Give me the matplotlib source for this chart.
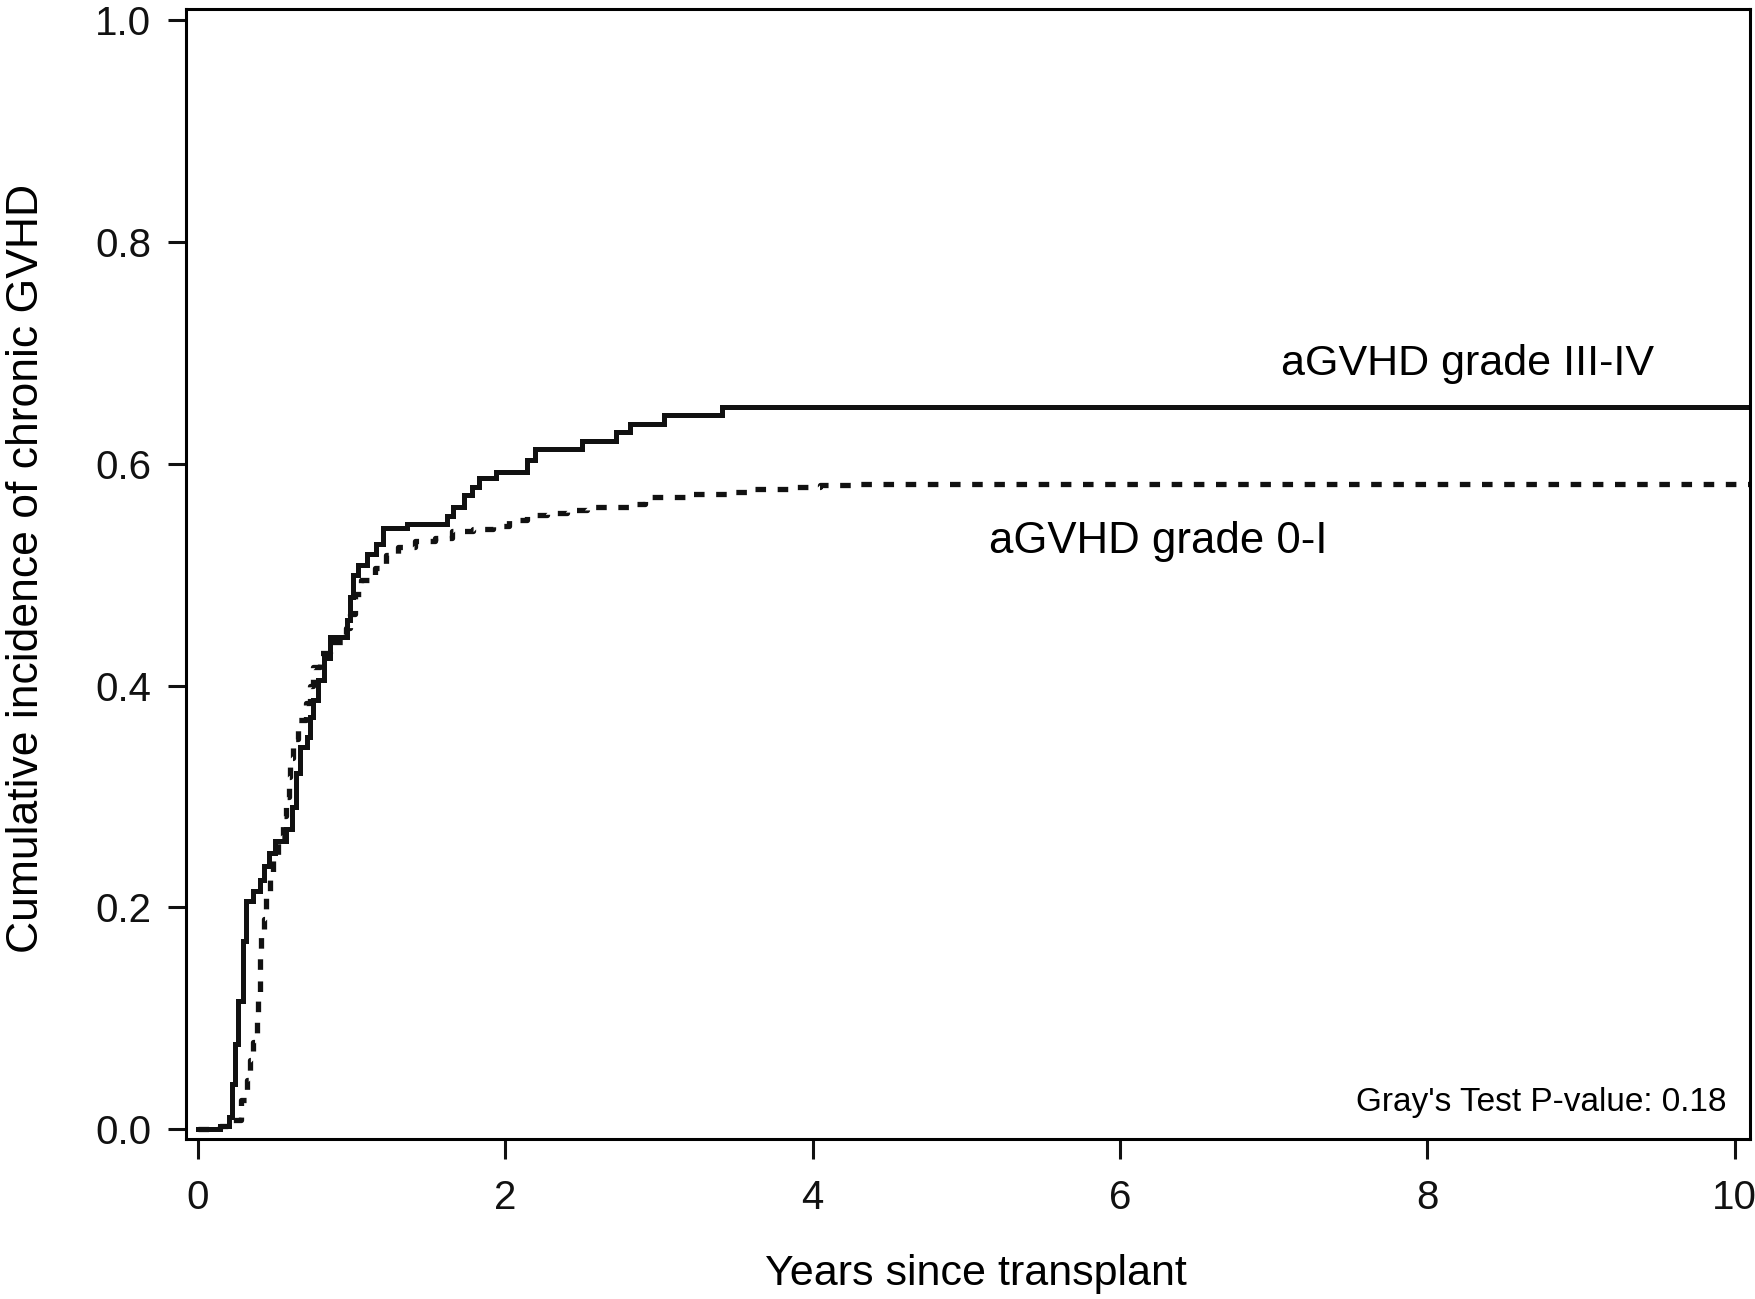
import matplotlib
matplotlib.use("Agg")
import matplotlib.pyplot as plt

plt.rcParams['font.family'] = ['Liberation Sans', 'DejaVu Sans']

# aGVHD grade III-IV (solid) - step start times (years) and cumulative incidence
t_high = [0.00, 0.14, 0.20, 0.22, 0.24, 0.26, 0.29, 0.31, 0.36, 0.40, 0.43, 0.46,
          0.50, 0.57, 0.61, 0.64, 0.66, 0.71, 0.73, 0.75, 0.78, 0.82, 0.86, 0.97,
          0.99, 1.01, 1.04, 1.10, 1.16, 1.20, 1.36, 1.62, 1.66, 1.73, 1.78, 1.83,
          1.94, 2.14, 2.19, 2.50, 2.72, 2.81, 3.03, 3.41, 10.1]
ci_high = [0.000, 0.003, 0.011, 0.041, 0.077, 0.116, 0.170, 0.206, 0.215, 0.225, 0.237, 0.249,
           0.260, 0.271, 0.291, 0.321, 0.345, 0.354, 0.372, 0.387, 0.405, 0.425, 0.444, 0.459,
           0.480, 0.500, 0.509, 0.519, 0.528, 0.542, 0.546, 0.553, 0.561, 0.572, 0.579, 0.587,
           0.593, 0.603, 0.613, 0.621, 0.629, 0.636, 0.644, 0.651, 0.651]

# aGVHD grade 0-I (dashed)
t_low = [0.00, 0.14, 0.22, 0.28, 0.32, 0.34, 0.36, 0.38, 0.39, 0.40, 0.405, 0.41,
         0.43, 0.445, 0.465, 0.49, 0.52, 0.55, 0.575, 0.59, 0.60, 0.62, 0.65, 0.70,
         0.73, 0.75, 0.79, 0.86, 0.96, 0.99, 1.02, 1.06, 1.15, 1.22, 1.30, 1.41,
         1.54, 1.65, 1.79, 1.92, 2.02, 2.14, 2.27, 2.40, 2.53, 2.81, 2.91, 3.19,
         3.45, 3.60, 3.85, 4.05, 4.25, 10.1]
ci_low = [0.000, 0.003, 0.008, 0.026, 0.044, 0.062, 0.079, 0.098, 0.116, 0.137, 0.155, 0.174,
          0.190, 0.209, 0.228, 0.243, 0.264, 0.282, 0.300, 0.318, 0.335, 0.352, 0.369, 0.384,
          0.400, 0.417, 0.429, 0.439, 0.452, 0.465, 0.483, 0.495, 0.506, 0.518, 0.525, 0.530,
          0.533, 0.539, 0.541, 0.544, 0.549, 0.554, 0.556, 0.558, 0.561, 0.564, 0.570, 0.573,
          0.575, 0.577, 0.579, 0.581, 0.582, 0.582]

x_ticks = [0, 2, 4, 6, 8, 10]
y_ticks = [0.0, 0.2, 0.4, 0.6, 0.8, 1.0]

fig = plt.figure(figsize=(17.56, 12.99), dpi=100)
ax = fig.add_axes([0.106, 0.123, 0.8906, 0.870])

ax.plot(t_high, ci_high, drawstyle='steps-post', color='#111111', lw=3.6,
        solid_joinstyle='miter')
ax.plot(t_low, ci_low, drawstyle='steps-post', color='#111111', lw=3.8,
        linestyle=(0, (2.0, 2.2)))

ax.set_xlim(-0.078, 10.1)
ax.set_ylim(-0.009, 1.01)
ax.set_xticks(x_ticks)
ax.set_xticklabels([str(v) for v in x_ticks])
ax.set_yticks(y_ticks)
ax.set_yticklabels(['%.1f' % v for v in y_ticks])

for s in ax.spines.values():
    s.set_linewidth(2.2)
ax.tick_params(axis='both', direction='out', width=2.2, labelsize=29, colors='#111111')
ax.tick_params(axis='x', length=14.5, pad=14)
ax.tick_params(axis='y', length=13, pad=12)

ax.set_xlabel('Years since transplant', fontsize=31)
ax.xaxis.set_label_coords(0.505, -0.102)
ax.set_ylabel('Cumulative incidence of chronic GVHD', fontsize=32)
ax.yaxis.set_label_coords(-0.089, 0.505)

ax.text(7.05, 0.690, 'aGVHD grade III-IV', fontsize=31, ha='left', va='center')
ax.text(5.15, 0.530, 'aGVHD grade 0-I', fontsize=31.5, ha='left', va='center')
ax.text(9.95, 0.016, "Gray's Test P-value: 0.18", fontsize=24, ha='right', va='baseline')

fig.savefig('out.png', dpi=100)
